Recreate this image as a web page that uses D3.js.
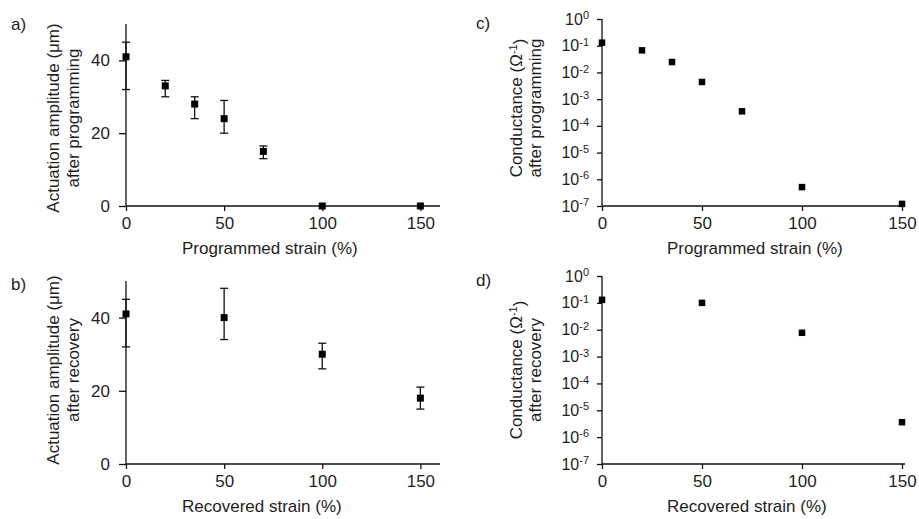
<!DOCTYPE html>
<html>
<head>
<meta charset="utf-8">
<script src="https://cdn.jsdelivr.net/npm/d3@7/dist/d3.min.js"></script>
<style>
  html, body { margin: 0; padding: 0; background: #fff; }
  svg { display: block; font-family: Arial, "Liberation Sans", Helvetica, sans-serif; }
</style>
</head>
<body>
<svg id="chart" width="919" height="519"></svg>
<script>
// ---- Data ----
// Panel a: actuation amplitude after programming
const strainA = [0, 20, 35, 50, 70, 100, 150];
const ampA    = [41, 33, 28, 24, 15, 0, 0];
const ampALow = [32, 30, 24, 20, 13, 0, 0];
const ampAHigh= [45, 34.5, 30, 29, 16.5, 0, 0];

// Panel b: actuation amplitude after recovery
const strainB = [0, 50, 100, 150];
const ampB    = [41, 40, 30, 18];
const ampBLow = [32, 34, 26, 15];
const ampBHigh= [45, 48, 33, 21];

// Panel c: conductance after programming
const strainC = [0, 20, 35, 50, 70, 100, 150];
const condC   = [0.13, 0.067, 0.0245, 0.0044, 0.00035, 5.1e-7, 1.2e-7];

// Panel d: conductance after recovery
const strainD = [0, 50, 100, 150];
const condD   = [0.13, 0.10, 0.0077, 3.6e-6];

// Tick labels
const xTicks = [0, 50, 100, 150];
const ampTicks = [0, 20, 40];
const logTicks = [1, 1e-1, 1e-2, 1e-3, 1e-4, 1e-5, 1e-6, 1e-7];

const svg = d3.select("#chart");
const TXT = "#1e1e1e";

function linearPanel(o) {
  const x = d3.scaleLinear().domain([0, 160]).range([o.left, o.right]);
  const y = d3.scaleLinear().domain([0, 50]).range([o.bottom, o.top]);
  const g = svg.append("g");

  const xa = g.append("g").attr("transform", `translate(0,${o.bottom})`)
    .call(d3.axisBottom(x).tickValues(xTicks).tickSize(5).tickPadding(6).tickFormat(d3.format("d")));
  const ya = g.append("g").attr("transform", `translate(${o.left},0)`)
    .call(d3.axisLeft(y).tickValues(ampTicks).tickSize(7).tickPadding(9).tickFormat(d3.format("d")));
  [xa, ya].forEach(a => {
    a.select(".domain").attr("stroke", "#111").attr("stroke-width", 1.3);
    a.selectAll(".tick line").attr("stroke", "#111").attr("stroke-width", 1.3);
    a.selectAll(".tick text").attr("fill", TXT).attr("font-size", "17px");
  });
  // remove outer end-tick path artifacts: draw domain as plain line
  xa.select(".domain").attr("d", `M${o.left},0H${o.right}`);
  ya.select(".domain").attr("d", `M0,${o.bottom}V${o.top}`);

  // error bars
  const cap = 4;
  o.xs.forEach((xv, i) => {
    if (o.hi[i] === o.lo[i]) return;
    const cx = x(xv);
    g.append("line").attr("x1", cx).attr("x2", cx).attr("y1", y(o.lo[i])).attr("y2", y(o.hi[i]))
      .attr("stroke", "#111").attr("stroke-width", 1.3);
    [o.lo[i], o.hi[i]].forEach(v => {
      g.append("line").attr("x1", cx - cap).attr("x2", cx + cap).attr("y1", y(v)).attr("y2", y(v))
        .attr("stroke", "#111").attr("stroke-width", 1.3);
    });
  });
  const s = 7;
  g.selectAll("rect.pt").data(o.xs.map((xv, i) => [xv, o.ys[i]])).join("rect")
    .attr("class", "pt")
    .attr("x", d => x(d[0]) - s / 2).attr("y", d => y(d[1]) - s / 2)
    .attr("width", s).attr("height", s).attr("fill", "#000");

  // titles
  g.append("text").attr("x", o.xtX).attr("y", o.bottom + 48).attr("text-anchor", "start")
    .attr("font-size", "17px").attr("fill", TXT).text(o.xtitle);
  const yt = g.append("text").attr("transform", `translate(0,${o.ytY}) rotate(-90)`)
    .attr("text-anchor", "middle").attr("font-size", "17px").attr("fill", TXT);
  yt.append("tspan").attr("x", 0).attr("y", 59).text("Actuation amplitude (\u03bcm)");
  yt.append("tspan").attr("x", 0).attr("y", 78.5).text(o.ytitle2);

  g.append("text").attr("x", o.labX).attr("y", o.labY).attr("font-size", "17px").attr("fill", TXT).text(o.label);
}

function logPanel(o) {
  const x = d3.scaleLinear().domain([0, 151.5]).range([o.left, o.right]);
  const y = d3.scaleLog().domain([1e-7, 1]).range([o.bottom, o.top]);
  const g = svg.append("g");

  const xa = g.append("g").attr("transform", `translate(0,${o.bottom})`)
    .call(d3.axisBottom(x).tickValues(xTicks).tickSize(5).tickPadding(6).tickFormat(d3.format("d")));
  const ya = g.append("g").attr("transform", `translate(${o.left},0)`)
    .call(d3.axisLeft(y).tickValues(logTicks).tickSize(5).tickPadding(8));
  [xa, ya].forEach(a => {
    a.select(".domain").attr("stroke", "#111").attr("stroke-width", 1.3);
    a.selectAll(".tick line").attr("stroke", "#111").attr("stroke-width", 1.3);
    a.selectAll(".tick text").attr("fill", TXT).attr("font-size", "17px");
  });
  xa.select(".domain").attr("d", `M${o.left},0H${o.right}`);
  ya.select(".domain").attr("d", `M0,${o.bottom}V${o.top}`);
  ya.selectAll(".tick text").each(function (d) {
    const t = d3.select(this);
    t.text(null).attr("font-size", "16px");
    t.append("tspan").text("10");
    t.append("tspan").attr("dy", "-0.5em").attr("font-size", "11px").text(String(Math.round(Math.log10(d))));
  });

  const s = 6.5;
  g.selectAll("rect.pt").data(o.xs.map((xv, i) => [xv, o.ys[i]])).join("rect")
    .attr("class", "pt")
    .attr("x", d => x(d[0]) - s / 2).attr("y", d => y(d[1]) - s / 2)
    .attr("width", s).attr("height", s).attr("fill", "#000");

  g.append("text").attr("x", o.xtX).attr("y", o.bottom + 48).attr("text-anchor", "start")
    .attr("font-size", "17px").attr("fill", TXT).text(o.xtitle);
  const yt = g.append("text").attr("transform", `translate(0,${o.ytY}) rotate(-90)`)
    .attr("text-anchor", "middle").attr("font-size", "17px").attr("fill", TXT);
  const l1 = yt.append("tspan").attr("x", 0).attr("y", 522);
  l1.append("tspan").text("Conductance (\u03a9");
  l1.append("tspan").attr("dy", "-0.5em").attr("font-size", "11px").text("-1");
  l1.append("tspan").attr("dy", "0.5em").text(")");
  yt.append("tspan").attr("x", 0).attr("y", 541).text(o.ytitle2);

  g.append("text").attr("x", o.labX).attr("y", o.labY).attr("font-size", "17px").attr("fill", TXT).text(o.label);
}

linearPanel({ left: 126, right: 440, top: 24, bottom: 206, xs: strainA, ys: ampA, lo: ampALow, hi: ampAHigh,
  xtitle: "Programmed strain (%)", xtX: 182, ytitle2: "after programming", ytY: 118, label: "a)", labX: 11, labY: 30 });
linearPanel({ left: 126, right: 440, top: 281, bottom: 464, xs: strainB, ys: ampB, lo: ampBLow, hi: ampBHigh,
  xtitle: "Recovered strain (%)", xtX: 182, ytitle2: "after recovery", ytY: 370, label: "b)", labX: 11, labY: 290 });
logPanel({ left: 602, right: 905, top: 19, bottom: 206, xs: strainC, ys: condC,
  xtitle: "Programmed strain (%)", xtX: 667, ytitle2: "after programming", ytY: 108, label: "c)", labX: 476, labY: 29 });
logPanel({ left: 602, right: 905, top: 276, bottom: 464, xs: strainD, ys: condD,
  xtitle: "Recovered strain (%)", xtX: 667, ytitle2: "after recovery", ytY: 370, label: "d)", labX: 476, labY: 286 });
</script>
</body>
</html>
